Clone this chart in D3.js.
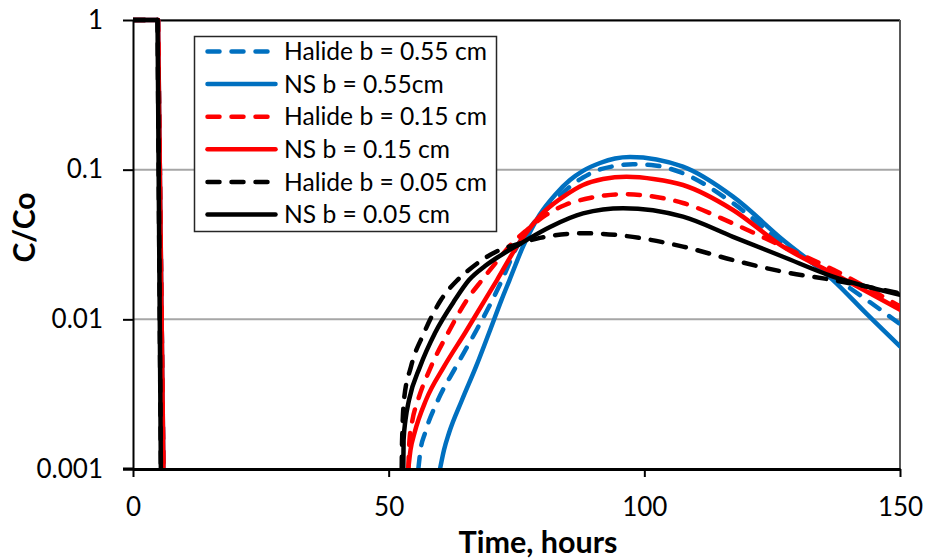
<!DOCTYPE html>
<html><head><meta charset="utf-8">
<script src="https://cdn.jsdelivr.net/npm/d3@7"></script>
<style>html,body{margin:0;padding:0;background:#fff;} svg{display:block;font-family:Lato,'Open Sans',sans-serif;}</style>
</head><body><svg id="chart" width="927" height="559"></svg>
<script>
// ---------- data ----------
const xTicks = [0, 50, 100, 150];
const yTicks = [0.001, 0.01, 0.1, 1];
const yTickLabels = ["0.001", "0.01", "0.1", "1"];
const xTitle = "Time, hours";
const yTitle = "C/Co";

const seriesNames = ["Halide b = 0.55 cm", "NS b = 0.55cm", "Halide b = 0.15 cm", "NS b = 0.15 cm", "Halide b = 0.05 cm", "NS b = 0.05 cm"];
const seriesColors = ["#0070C0", "#0070C0", "#FF0000", "#FF0000", "#000000", "#000000"];
const seriesDashed = [true, false, true, false, true, false];

// initial pulse (C/Co = 1 then drop)
const pulseTimesColour = [0, 4.9, 5.95];
const pulseTimesBlack = [0, 4.8, 5.45];
const pulseValues = [1, 1, 0.001];

// Halide b = 0.55 cm
const halide055T = [55.8, 56.23, 57.11, 59.65, 63.17, 66.88, 70.31, 72.16, 75.1, 78.23, 81.55, 84.68, 88.01, 91.33, 94.26, 97.78, 102.09, 107.56, 117.34, 127.12, 136.9, 143.49, 150];
const halide055V = [0.001, 0.00134, 0.00174, 0.00289, 0.00483, 0.00811, 0.0135, 0.0183, 0.0306, 0.0434, 0.0572, 0.0732, 0.0887, 0.1003, 0.1058, 0.1087, 0.1067, 0.0946, 0.0597, 0.0322, 0.0193, 0.0135, 0.0093];
// NS b = 0.55 cm
const ns055T = [60.04, 60.82, 61.8, 64.34, 67.08, 69.62, 72.07, 73.63, 76.27, 79.5, 82.53, 85.46, 88.01, 91.33, 94.26, 97.2, 107.56, 117.34, 127.12, 136.9, 143.49, 150];
const ns055V = [0.001, 0.00134, 0.00174, 0.00289, 0.00483, 0.00811, 0.0135, 0.0183, 0.0306, 0.0498, 0.0678, 0.0853, 0.0982, 0.1108, 0.1188, 0.1216, 0.1047, 0.066, 0.0339, 0.0183, 0.01087, 0.0066];
// Halide b = 0.15 cm
const halide015T = [53.84, 54.07, 54.66, 55.74, 58.28, 61.6, 65.32, 68.25, 71.38, 73.53, 77.05, 80.77, 84.49, 88.4, 92.31, 95.83, 107.56, 117.34, 127.12, 136.9, 150];
const halide015V = [0.001, 0.00156, 0.00213, 0.00289, 0.00483, 0.00811, 0.0135, 0.0183, 0.0249, 0.0306, 0.0396, 0.0498, 0.0581, 0.0637, 0.0673, 0.0685, 0.0599, 0.0437, 0.0306, 0.0215, 0.0122];
// NS b = 0.15 cm
const ns015T = [53.84, 54.27, 55.05, 57.3, 60.82, 64.93, 68.84, 71.19, 75.04, 80.18, 84.68, 88.01, 91.92, 96.5, 102.09, 107.56, 117.34, 127.12, 136.9, 150];
const ns015V = [0.001, 0.00134, 0.00174, 0.00289, 0.00483, 0.00811, 0.0135, 0.0183, 0.0306, 0.0514, 0.0678, 0.079, 0.0867, 0.0897, 0.0864, 0.079, 0.0538, 0.0306, 0.0203, 0.0116];
// Halide b = 0.05 cm
const halide005T = [52.55, 52.59, 52.67, 53.0, 54.37, 56.91, 60.24, 63.31, 65.91, 68.84, 71.77, 75.04, 79.6, 84.88, 88.0, 94.6, 107.56, 117.34, 127.12, 136.9, 150];
const halide005V = [0.001, 0.00134, 0.00174, 0.0029, 0.00483, 0.0081, 0.0135, 0.0181, 0.0217, 0.0257, 0.0291, 0.0317, 0.035, 0.0372, 0.0376, 0.0366, 0.0306, 0.0249, 0.0208, 0.0183, 0.0149];
// NS b = 0.05 cm
const ns005T = [52.86, 52.92, 53.29, 53.98, 56.13, 59.06, 62.97, 65.71, 68.84, 72.36, 75.68, 81.55, 88.01, 95.83, 107.56, 117.34, 127.12, 136.9, 150];
const ns005V = [0.001, 0.00156, 0.00213, 0.00289, 0.00483, 0.00811, 0.0135, 0.0183, 0.0227, 0.0274, 0.0319, 0.0414, 0.051, 0.0552, 0.0485, 0.0356, 0.0262, 0.0193, 0.0146];

const seriesT = [halide055T, ns055T, halide015T, ns015T, halide005T, ns005T];
const seriesV = [halide055V, ns055V, halide015V, ns015V, halide005V, ns005V];
const seriesPulseT = [pulseTimesColour, pulseTimesColour, pulseTimesColour, pulseTimesColour, pulseTimesBlack, pulseTimesBlack];

// ---------- drawing ----------
const svg = d3.select("#chart");
const x = d3.scaleLinear().domain([0, 150]).range([133, 900]);
const y = d3.scaleLog().domain([0.001, 1]).range([469, 20]);

svg.append("defs").append("clipPath").attr("id", "plotclip")
  .append("rect").attr("x", x(0)).attr("y", 10).attr("width", x(150) - x(0)).attr("height", y(0.001) - 10);

// gridlines
svg.append("g").selectAll("line").data(yTicks.slice(1)).join("line")
  .attr("x1", x(0)).attr("x2", x(150)).attr("y1", d => y(d)).attr("y2", d => y(d))
  .attr("stroke", "#a6a6a6").attr("stroke-width", 2);

// top & right borders
svg.append("line").attr("x1", x(0)).attr("x2", x(150)).attr("y1", y(1) + 0.5).attr("y2", y(1) + 0.5)
  .attr("stroke", "#000").attr("stroke-width", 2);
svg.append("line").attr("x1", x(150)).attr("x2", x(150)).attr("y1", y(1)).attr("y2", y(0.001))
  .attr("stroke", "#595959").attr("stroke-width", 2);

const line = d3.line().x(d => x(d[0])).y(d => y(d[1])).curve(d3.curveMonotoneX);
const lineLin = d3.line().x(d => x(d[0])).y(d => y(d[1]));
const dash = "12,12";

const gSeries = svg.append("g").attr("clip-path", "url(#plotclip)");
seriesNames.forEach((name, i) => {
  const pts = seriesT[i].map((t, j) => [t, seriesV[i][j]]);
  const pulse = seriesPulseT[i].map((t, j) => [t, pulseValues[j]]);
  [[pulse, lineLin], [pts, line]].forEach(([data, gen]) => {
    gSeries.append("path").attr("d", gen(data))
      .attr("fill", "none").attr("stroke", seriesColors[i]).attr("stroke-width", 4.5)
      .attr("stroke-linecap", "round").attr("stroke-linejoin", "round")
      .attr("stroke-dasharray", seriesDashed[i] ? dash : null);
  });
});

// axes
const yAxis = d3.axisLeft(y).tickValues(yTicks).tickFormat((d, i) => yTickLabels[i])
  .tickSize(10).tickSizeOuter(0).tickPadding(20);
const gy = svg.append("g").attr("transform", `translate(${x(0)},0)`).call(yAxis);
gy.select(".domain").attr("stroke", "#000").attr("stroke-width", 2);
gy.selectAll(".tick line").attr("stroke", "#000").attr("stroke-width", 2);
gy.selectAll(".tick text").attr("font-size", 26).attr("font-family", "Lato").attr("fill", "#000");

const xAxis = d3.axisBottom(x).tickValues(xTicks).tickSize(8).tickSizeOuter(0).tickPadding(21);
const gx = svg.append("g").attr("transform", `translate(0,${y(0.001)})`).call(xAxis);
gx.select(".domain").attr("stroke", "#000").attr("stroke-width", 3);
gx.selectAll(".tick line").attr("stroke", "#000").attr("stroke-width", 2);
gx.selectAll(".tick text").attr("font-size", 26).attr("font-family", "Lato").attr("fill", "#000");
svg.append("line").attr("x1", 123).attr("x2", x(0)).attr("y1", y(0.001)).attr("y2", y(0.001))
  .attr("stroke", "#000").attr("stroke-width", 3);

// axis titles
svg.append("text").attr("x", 538).attr("y", 553).attr("text-anchor", "middle")
  .attr("font-weight", "bold").attr("font-size", 30.5).text(xTitle);
svg.append("text").attr("transform", "translate(35,227.5) rotate(-90)").attr("text-anchor", "middle")
  .attr("font-weight", "bold").attr("font-size", 30).text(yTitle);

// legend
const lg = svg.append("g");
lg.append("rect").attr("x", 194.5).attr("y", 36.5).attr("width", 302).attr("height", 195)
  .attr("fill", "#fff").attr("stroke", "#262626").attr("stroke-width", 1.5);
seriesNames.forEach((name, i) => {
  const yy = 51.5 + i * 32.6;
  lg.append("line").attr("x1", 207.5).attr("x2", 275.5).attr("y1", yy).attr("y2", yy)
    .attr("stroke", seriesColors[i]).attr("stroke-width", 4.5).attr("stroke-linecap", "round")
    .attr("stroke-dasharray", seriesDashed[i] ? dash : null);
  lg.append("text").attr("x", 284).attr("y", yy).attr("dy", "0.35em")
    .attr("font-size", 24.6).attr("fill", "#000").text(name);
});
</script></body></html>
